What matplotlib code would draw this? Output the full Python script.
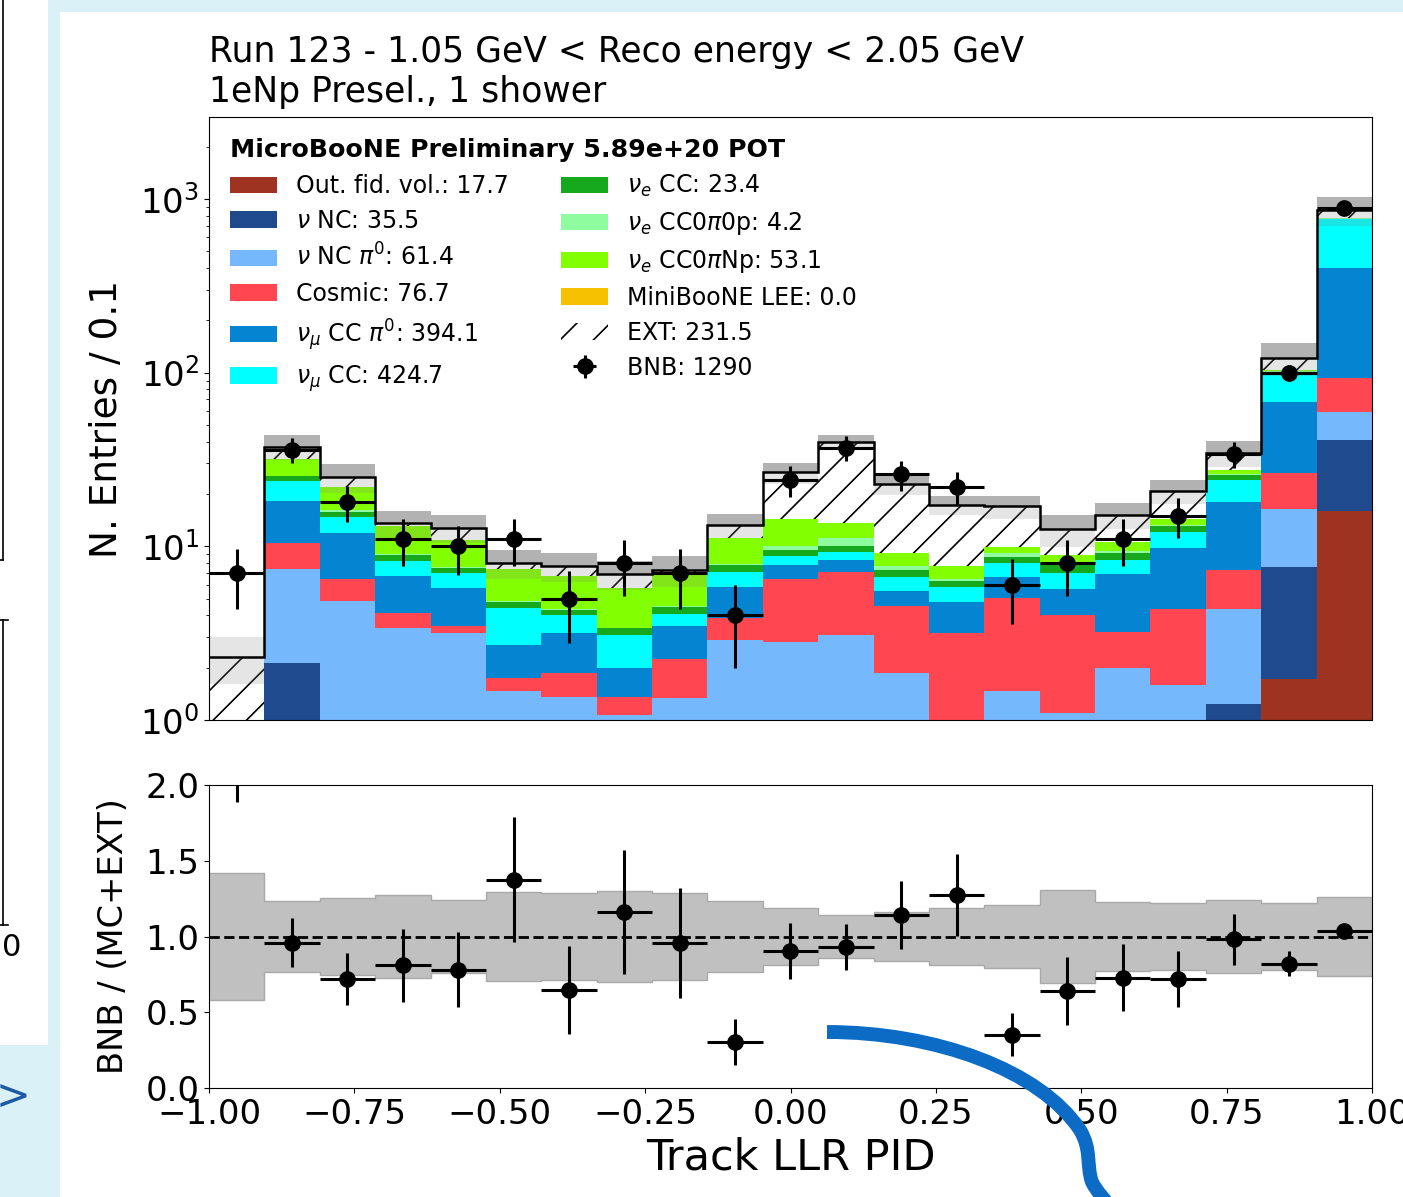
import numpy as np
import matplotlib
matplotlib.use("Agg")
import matplotlib.pyplot as plt
from matplotlib.patches import Rectangle, PathPatch, Patch
from matplotlib.path import Path
from matplotlib.lines import Line2D

plt.rcParams['font.family'] = ['DejaVu Sans']
plt.rcParams['hatch.linewidth'] = 1.2

# ---------------- data ----------------
bin_edges = np.linspace(-1.0, 1.0, 22)

out_fid_vol  = [0, 0, 0, 0, 0, 0, 0, 0, 0, 0, 0, 0, 0, 0, 0, 0, 0, 0, 0, 1.72, 16.0]
nu_nc        = [0, 2.14, 0, 0, 0, 0, 0, 0, 0, 0, 0, 0, 0, 0, 0, 0, 0, 0, 1.24, 5.91, 24.9]
nu_nc_pi0    = [0, 5.23, 4.84, 3.37, 3.18, 1.47, 1.35, 1.07, 1.33, 2.89, 2.82, 3.09, 1.86, 0.9, 1.46, 1.10, 2.0, 1.59, 3.1, 8.87, 18.1]
cosmic       = [0, 3.03, 1.62, 0.74, 0.31, 0.27, 0.51, 0.28, 0.91, 0.96, 3.64, 4.05, 2.67, 2.28, 3.56, 2.92, 1.22, 2.75, 2.96, 10.0, 34.5]
numu_cc_pi0  = [0, 7.8, 5.44, 2.63, 2.24, 0.96, 1.32, 0.63, 1.24, 2.0, 1.34, 1.2, 1.02, 1.62, 1.66, 1.63, 3.71, 5.4, 10.8, 41.5, 308.5]
numu_cc      = [0, 5.6, 2.8, 1.49, 1.32, 1.70, 0.84, 1.11, 0.58, 1.29, 1.0, 0.97, 1.08, 1.05, 1.37, 1.40, 1.41, 2.36, 6.0, 29.7, 362.0]
nue_cc       = [0, 1.6, 1.1, 0.68, 0.48, 0.40, 0.28, 0.28, 0.43, 0.66, 0.72, 0.69, 0.67, 0.48, 0.67, 0.93, 0.76, 1.0, 1.6, 3.3, 6.0]
nue_cc0pi0p  = [0, 0.0, 0.4, 0.09, 0.07, 0.05, 0.05, 0.03, 0.06, 0.1, 0.48, 1.1, 0.4, 0.17, 0.38, 0.07, 0.3, 0.2, 0.3, 0.5, 2.0]
nue_cc0piNp  = [0, 6.3, 5.8, 4.1, 3.2, 2.52, 2.39, 2.33, 2.29, 3.2, 4.3, 2.6, 1.49, 1.24, 0.78, 0.86, 1.2, 1.0, 1.5, 1.5, 3.0]
miniboone_lee = [0] * 21
ext          = [2.31, 5.8, 3.0, 0.5, 2.0, 0.63, 0.96, 1.17, 0.46, 2.1, 12.3, 26.1, 13.6, 9.56, 7.12, 3.59, 4.5, 6.5, 7.1, 19.0, 85.0]
bnb          = [7, 36, 18, 11, 10, 11, 5, 8, 7, 4, 24, 37, 26, 22, 6, 8, 11, 15, 34, 100, 890]

# fractional uncertainty bands
main_band_frac  = [0.30, 0.165, 0.19, 0.18, 0.18, 0.19, 0.19, 0.19, 0.20, 0.16, 0.14, 0.10, 0.13, 0.13, 0.15, 0.21, 0.17, 0.16, 0.17, 0.22, 0.19]
ratio_band_frac = [0.42, 0.235, 0.257, 0.273, 0.238, 0.297, 0.29, 0.303, 0.287, 0.232, 0.19, 0.142, 0.163, 0.19, 0.207, 0.31, 0.225, 0.224, 0.244, 0.221, 0.263]

legend_names = ["Out. fid. vol.", r"$\nu$ NC", r"$\nu$ NC $\pi^0$", "Cosmic",
                r"$\nu_{\mu}$ CC $\pi^0$", r"$\nu_{\mu}$ CC", r"$\nu_e$ CC",
                r"$\nu_e$ CC0$\pi$0p", r"$\nu_e$ CC0$\pi$Np", "MiniBooNE LEE", "EXT"]
legend_totals = [17.7, 35.5, 61.4, 76.7, 394.1, 424.7, 23.4, 4.2, 53.1, 0.0, 231.5]

title_text = "Run 123 - 1.05 GeV < Reco energy < 2.05 GeV\n1eNp Presel., 1 shower"
legend_title = "MicroBooNE Preliminary 5.89e+20 POT"
x_ticks = [-1.0, -0.75, -0.5, -0.25, 0.0, 0.25, 0.5, 0.75, 1.0]
ratio_ticks = [0.0, 0.5, 1.0, 1.5, 2.0]

colors = ['#9e3322', '#1f4a8e', '#76b8fc', '#ff4651', '#0584d1', '#00ffff',
          '#16a91d', '#8ffc9f', '#82ff00', '#f6c100']

# ---------------- figure ----------------
W, H = 1403, 1197
fig = plt.figure(figsize=(W / 100, H / 100), dpi=100, facecolor='#d9f1f7')

def fx(x):
    return x / W

def fy(y):
    return 1 - y / H

# screenshot background panels
fig.add_artist(Rectangle((fx(60), fy(1197)), (W - 60) / W, (1197 - 12) / H,
                         transform=fig.transFigure, facecolor='white', edgecolor='none', zorder=-10))
fig.add_artist(Rectangle((0, fy(1045)), 48 / W, 1045 / H,
                         transform=fig.transFigure, facecolor='white', edgecolor='none', zorder=-10))
for (x0, y0, x1, y1) in [(3, 0, 3, 560), (0, 560, 3, 560), (3, 620, 3, 925), (0, 620, 8, 620), (0, 925, 8, 925)]:
    fig.add_artist(Line2D([fx(x0), fx(x1)], [fy(y0), fy(y1)], transform=fig.transFigure,
                          color='black', lw=1.2, zorder=-5))
fig.text(fx(12), fy(948), "0", fontsize=22, ha='center', va='center')
fig.text(fx(13), fy(1097), ">", fontsize=30, ha='center', va='center', color='#1c5aa6')

ax = fig.add_axes([fx(209), fy(720), 1163 / W, 603 / H])
axr = fig.add_axes([fx(209), fy(1088), 1163 / W, 303 / H])

widths = np.diff(bin_edges)
centers = 0.5 * (bin_edges[1:] + bin_edges[:-1])

components = [out_fid_vol, nu_nc, nu_nc_pi0, cosmic, numu_cc_pi0, numu_cc,
              nue_cc, nue_cc0pi0p, nue_cc0piNp, miniboone_lee]
bottom = np.zeros(len(centers))
for vals, col in zip(components, colors):
    v = np.asarray(vals, dtype=float)
    ax.bar(bin_edges[:-1], v, width=widths, bottom=bottom, align='edge',
           color=col, linewidth=0, zorder=1)
    bottom = bottom + v
mc_only = bottom.copy()
ext_arr = np.asarray(ext, dtype=float)
ax.bar(bin_edges[:-1], ext_arr, width=widths, bottom=bottom, align='edge',
       facecolor='white', edgecolor='black', linewidth=0, hatch='/', zorder=1)
total = bottom + ext_arr

mf = np.asarray(main_band_frac)
lo = total * (1 - mf)
hi = total * (1 + mf)
ax.stairs(hi, bin_edges, baseline=lo, fill=True, color='gray', alpha=0.2, lw=0, zorder=2)
ax.stairs(np.where(mc_only > 0, hi, total), bin_edges, baseline=total, fill=True,
          color='gray', alpha=0.5, lw=0, zorder=2)
ax.stairs(total, bin_edges, baseline=None, color='black', lw=1.8, zorder=3)

bnb_arr = np.asarray(bnb, dtype=float)
eb = ax.errorbar(centers, bnb_arr, yerr=np.sqrt(bnb_arr), xerr=widths / 2, fmt='o',
                 color='black', ms=11, elinewidth=2.2, capsize=0, zorder=4)

ax.set_yscale('log', nonpositive='clip')
ax.set_xlim(-1, 1)
ax.set_ylim(1, 2960)
ax.tick_params(axis='x', bottom=False, labelbottom=False)
ax.tick_params(axis='y', labelsize=24.5)
ax.set_ylabel("N. Entries / 0.1", fontsize=27)
ax.yaxis.set_label_coords(-0.0724, 0.5)
ax.set_title(title_text, loc='left', fontsize=24.9, pad=11)

handles = [Patch(facecolor=c, edgecolor='none') for c in colors]
handles.append(Patch(facecolor='white', edgecolor='black', lw=0, hatch='/'))
handles.append(eb)
labels = [f"{n}: {t:.1f}" for n, t in zip(legend_names, legend_totals)]
labels.append(f"BNB: {int(sum(bnb))}")
ax.legend(handles, labels, loc='upper left', ncol=2, frameon=False, fontsize=17,
          title=legend_title, title_fontproperties={'weight': 'bold', 'size': 18.2},
          alignment='left', handlelength=2.0, columnspacing=2.2, labelspacing=0.46)

# ---------------- ratio ----------------
rf = np.asarray(ratio_band_frac)
axr.stairs(1 + rf, bin_edges, baseline=1 - rf, fill=True, color='#c0c0c0', lw=0, zorder=1)
axr.stairs(1 + rf, bin_edges, baseline=None, color='#a9a9a9', lw=1.0, zorder=1)
axr.stairs(1 - rf, bin_edges, baseline=None, color='#a9a9a9', lw=1.0, zorder=1)
axr.axhline(1.0, color='black', ls='--', lw=2.0, zorder=2)
ratio = bnb_arr / total
ratio_err = np.sqrt(bnb_arr) / total
axr.errorbar(centers, ratio, yerr=ratio_err, xerr=widths / 2, fmt='o', color='black',
             ms=11, elinewidth=2.2, capsize=0, zorder=3)
axr.set_xlim(-1, 1)
axr.set_ylim(0, 2)
axr.set_xticks(x_ticks)
axr.set_yticks(ratio_ticks)
axr.yaxis.set_major_formatter(matplotlib.ticker.FormatStrFormatter('%.1f'))
axr.tick_params(labelsize=24.5)
axr.set_ylabel("BNB / (MC+EXT)", fontsize=24.3)
axr.yaxis.set_label_coords(-0.0683, 0.5)
axr.set_xlabel("Track LLR PID", fontsize=31)

# ---------------- hand-drawn arrow overlay ----------------
pts = [(827, 1032), (935, 1032), (1040, 1070), (1080, 1130),
       (1092, 1150), (1086, 1165), (1092, 1182),
       (1097, 1192), (1105, 1200), (1115, 1212)]
codes = [Path.MOVETO] + [Path.CURVE4] * 9
verts = [(fx(x), fy(y)) for x, y in pts]
fig.add_artist(PathPatch(Path(verts, codes), transform=fig.transFigure, facecolor='none',
                         edgecolor='#0c6bc5', lw=10, capstyle='butt', zorder=20))

fig.savefig("out.png", dpi=100, facecolor=fig.get_facecolor())
